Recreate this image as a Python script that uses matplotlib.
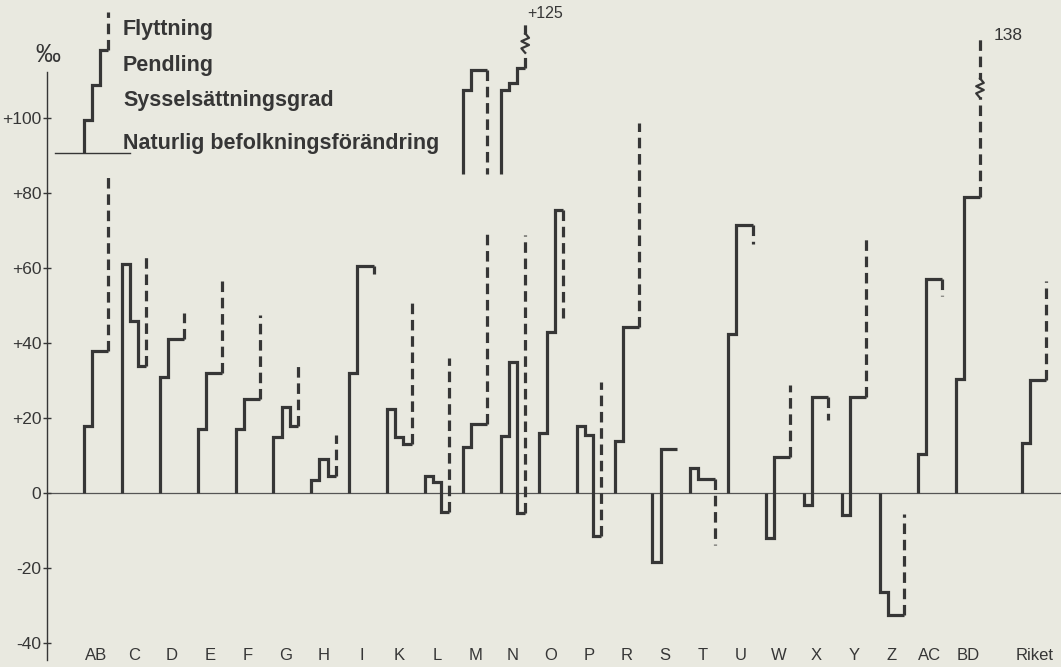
import numpy as np
import matplotlib.pyplot as plt

## data (per mille, per region)
regions = ['AB', 'C', 'D', 'E', 'F', 'G', 'H', 'I', 'K', 'L', 'M', 'N', 'O',
           'P', 'R', 'S', 'T', 'U', 'W', 'X', 'Y', 'Z', 'AC', 'BD', 'Riket']
slots = list(range(24)) + [24.75]
# naturlig befolkningsförändring
natur = [18, 61, 31, 17, 17, 15, 3.5, 32, 22.5, 4.5, 12.3, 15.2, 16,
         18, 14, -18.4, 6.7, 42.5, -11.9, -3.3, -5.9, -26.5, 10.4, 30.3, 13.3]
# sysselsättningsgrad
syssel = [20, -15, 10, 15, 8, 8, 5.5, 28.5, -7.5, -1.5, 6.1, 19.8, 27,
          -2.5, 30.2, 30.1, -2.9, 29, 21.5, 28.9, 31.5, -6, 46.6, 48.7, 16.8]
# pendling
pendling = [0, -12, 0, 0, 0, -5, -4.5, 0, -2, -8, 0, -40.3, 32.5,
            -27, 0, 0, 0, 0, 0, 0, 0, 0, 0, 0, 0]
# flyttning
flytt = [47, 30, 7, 26, 22.5, 17, 11, -2, 38, 41, 51, 74, -28.8,
         41, 54.6, 0, -17.7, -5, 19.2, -6.1, 42.2, 27, -4.4, 59, 26.4]

# upper staircases drawn above M and N
upper_regions = ['M', 'N']
upper_base = 85
upper_natur = [22.5, 22.5]
upper_syssel = [5.3, 1.9]
upper_pendling = [0, 4]
upper_flytt = [-27.8, 11.6]

# broken bars: shown height, break position, label
breaks = {'BD': (122, 108, '138'), 'N_upper': (126, 120, '+125')}

legend_labels = ['Flyttning', 'Pendling', 'Sysselsättningsgrad',
                 'Naturlig befolkningsförändring']
legend_base = 90.7
legend_steps = [8.8, 9.3, 9.3, 10.2]

bg = '#e9e9e0'
ink = '#363636'
w = 0.214          # width of one step, in slot units
lw = 2.3
dash = (0, (3.3, 1.8))

plt.rcParams['font.family'] = ['Liberation Sans', 'DejaVu Sans']

fig = plt.figure(figsize=(10.61, 6.67), dpi=100, facecolor=bg)
ax = fig.add_axes([47 / 1061, 0, 1 - 47 / 1061, 1])
ax.set_facecolor(bg)
ax.set_xlim(-0.976, 25.78)
ax.set_ylim(-46.4, 131.5)


def staircase(x0, base, steps, top=None, brk=None):
    xs = [x0]
    ys = [base]
    level = base
    for k, v in enumerate(steps[:3]):
        level += v
        xs += [x0 + k * w, x0 + (k + 1) * w]
        ys += [level, level]
    ax.plot(xs, ys, color=ink, lw=lw, solid_joinstyle='miter', solid_capstyle='butt', zorder=3)
    end = level + steps[3] if top is None else top
    xd = x0 + 3 * w
    ax.plot([xd, xd], [level, end], color=ink, lw=lw, linestyle=dash,
            dash_capstyle='butt', zorder=3)
    if brk is not None:
        zx = [xd, xd - 0.1, xd + 0.1, xd - 0.1, xd + 0.1, xd]
        zy = [brk - 2.6, brk - 1.4, brk - 0.5, brk + 0.5, brk + 1.4, brk + 2.6]
        ax.fill_between([xd - 0.06, xd + 0.06], brk - 2.2, brk + 2.2, color=bg, zorder=4)
        ax.plot(zx, zy, color=ink, lw=1.6, zorder=5)
    return xd, end


# zero line
ax.axhline(0, color='#555555', lw=0.9, zorder=1)

for i, reg in enumerate(regions):
    steps = [natur[i], syssel[i], pendling[i], flytt[i]]
    top, brk = None, None
    if reg in breaks:
        top, brk, lab = breaks[reg]
    xd, end = staircase(slots[i], 0, steps, top, brk)
    if reg in breaks:
        ax.text(xd + 0.35, end, lab, fontsize=12.5, color=ink, ha='left', va='center')
    ax.text(slots[i] + 1.5 * w, -43.2, reg, fontsize=12, color=ink,
            ha='center', va='center')

for j, reg in enumerate(upper_regions):
    i = regions.index(reg)
    steps = [upper_natur[j], upper_syssel[j], upper_pendling[j], upper_flytt[j]]
    key = reg + '_upper'
    top, brk = None, None
    if key in breaks:
        top, brk, lab = breaks[key]
    xd, end = staircase(slots[i], upper_base, steps, top, brk)
    if key in breaks:
        ax.text(xd + 0.05, end, lab, fontsize=11.5, color=ink, ha='left', va='bottom')

# legend: sample staircase above AB with texts
ax.plot([-0.77, 1.21], [legend_base, legend_base], color=ink, lw=1.0, zorder=3)
staircase(0, legend_base, legend_steps)
label_y = [123.5, 114.0, 104.8, 93.3]
for lab, ly in zip(legend_labels, label_y):
    ax.text(1.03, ly, lab, fontsize=15.5, fontweight='bold', color=ink,
            ha='left', va='center')

# y axis
for s in ['top', 'right', 'bottom']:
    ax.spines[s].set_visible(False)
ax.spines['left'].set_bounds(-44.5, 112.3)
ax.spines['left'].set_color(ink)
ax.spines['left'].set_linewidth(1.0)
yt = np.arange(-40, 101, 20)
ax.set_yticks(yt)
ax.set_yticklabels(['+%d' % v if v > 0 else ('0' if v == 0 else '-%d' % -v) for v in yt],
                   fontsize=12.5, color=ink)
ax.tick_params(axis='y', direction='inout', length=6, width=1.0, color=ink, pad=1)
ax.set_xticks([])
fig.text(48 / 1061, 1 - 55 / 667, '‰', fontsize=18, color=ink, ha='center', va='center')

fig.savefig('out.png', dpi=100, facecolor=bg)
